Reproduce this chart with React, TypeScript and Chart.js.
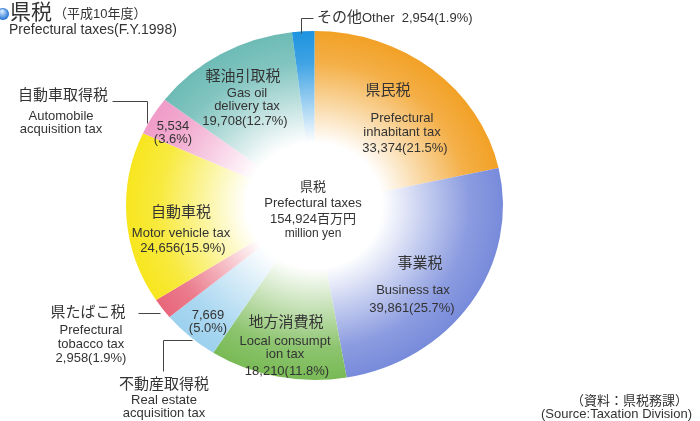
import React, { useEffect, useRef } from "react";
import { Chart, registerables } from "chart.js";

Chart.register(...registerables);

// ---- data ----
const namesJa = ["県民税", "事業税", "地方消費税", "不動産取得税", "県たばこ税", "自動車税", "自動車取得税", "軽油引取税", "その他"];
const namesEn = [
  "Prefectural\ninhabitant tax",
  "Business tax",
  "Local consumpt\nion tax",
  "Real estate\nacquisition tax",
  "Prefectural\ntobacco tax",
  "Motor vehicle tax",
  "Automobile\nacquisition tax",
  "Gas oil\ndelivery tax",
  "Other",
];
const values = [33374, 39861, 18210, 7669, 2958, 24656, 5534, 19708, 2954];
const percents = [21.5, 25.7, 11.8, 5.0, 1.9, 15.9, 3.6, 12.7, 1.9];
const totalValue = 154924;
const colors = ["#f2a126", "#788bdb", "#79ba55", "#9dd1ee", "#e8667a", "#f7e61e", "#f09cc8", "#6dbbb5", "#1d93df"];

const titleJa = "県税";
const titleYear = "（平成10年度）";
const titleEn = "Prefectural taxes(F.Y.1998)";
const centerLines = ["県税", "Prefectural taxes", `${totalValue.toLocaleString("en-US")}百万円`, "million yen"];
const sourceLines = ["（資料：県税務課）", "(Source:Taxation Division)"];

// ---- styles / layout ----
const FONT = '"Liberation Sans", Arial, "Noto Sans CJK JP", sans-serif';
const TEXT = "#333333";
const CX = 314.5;
const CY = 205.5;
const RX = 188.5;
const RY = 174.5;
const R = 181.5;

const fmt = (v: number) => v.toLocaleString("en-US");
const valText = (i: number) => `${fmt(values[i])}(${percents[i].toFixed(1)}%)`;

function hexToRgb(h: string) {
  const n = parseInt(h.slice(1), 16);
  return [(n >> 16) & 255, (n >> 8) & 255, n & 255];
}
function mix(h: string, t: number) {
  const [r, g, b] = hexToRgb(h);
  const m = (c: number) => Math.round(255 + (c - 255) * t);
  return `rgb(${m(r)},${m(g)},${m(b)})`;
}

type Txt = { t: string; x: number; y: number; size: number; align?: CanvasTextAlign };

function buildTexts(): Txt[] {
  const out: Txt[] = [];
  const en = namesEn.map((s) => s.split("\n"));
  // 0 県民税
  out.push({ t: namesJa[0], x: 388, y: 91, size: 15 });
  out.push({ t: en[0][0], x: 402, y: 118, size: 13 });
  out.push({ t: en[0][1], x: 402, y: 132, size: 13 });
  out.push({ t: valText(0), x: 405, y: 148, size: 13 });
  // 1 事業税
  out.push({ t: namesJa[1], x: 420, y: 264, size: 15 });
  out.push({ t: en[1][0], x: 413, y: 290, size: 13 });
  out.push({ t: valText(1), x: 412, y: 308, size: 13 });
  // 2 地方消費税
  out.push({ t: namesJa[2], x: 286, y: 323, size: 15 });
  out.push({ t: en[2][0], x: 285, y: 341, size: 13 });
  out.push({ t: en[2][1], x: 285, y: 354, size: 13 });
  out.push({ t: valText(2), x: 287, y: 371, size: 13 });
  // 3 不動産取得税
  out.push({ t: fmt(values[3]), x: 208, y: 315, size: 13 });
  out.push({ t: `(${percents[3].toFixed(1)}%)`, x: 208, y: 328, size: 13 });
  out.push({ t: namesJa[3], x: 164, y: 385, size: 15 });
  out.push({ t: en[3][0], x: 164, y: 400, size: 13 });
  out.push({ t: en[3][1], x: 164, y: 413, size: 13 });
  // 4 県たばこ税
  out.push({ t: namesJa[4], x: 88, y: 313, size: 15 });
  out.push({ t: en[4][0], x: 91, y: 330, size: 13 });
  out.push({ t: en[4][1], x: 91, y: 344, size: 13 });
  out.push({ t: valText(4), x: 91, y: 358, size: 13 });
  // 5 自動車税
  out.push({ t: namesJa[5], x: 181, y: 213, size: 15 });
  out.push({ t: en[5][0], x: 181, y: 233, size: 13 });
  out.push({ t: valText(5), x: 183, y: 248, size: 13 });
  // 6 自動車取得税
  out.push({ t: fmt(values[6]), x: 173, y: 126, size: 13 });
  out.push({ t: `(${percents[6].toFixed(1)}%)`, x: 173, y: 139, size: 13 });
  out.push({ t: namesJa[6], x: 63, y: 96, size: 15 });
  out.push({ t: en[6][0], x: 61, y: 116, size: 13 });
  out.push({ t: en[6][1], x: 61, y: 129, size: 13 });
  // 7 軽油引取税
  out.push({ t: namesJa[7], x: 243, y: 77, size: 15 });
  out.push({ t: en[7][0], x: 247, y: 93, size: 13 });
  out.push({ t: en[7][1], x: 247, y: 106, size: 13 });
  out.push({ t: valText(7), x: 245, y: 121, size: 13 });
  // center
  out.push({ t: centerLines[0], x: 313, y: 187, size: 13 });
  out.push({ t: centerLines[1], x: 313, y: 203, size: 13 });
  out.push({ t: centerLines[2], x: 313, y: 219, size: 13 });
  out.push({ t: centerLines[3], x: 313, y: 234, size: 12 });
  // source
  out.push({ t: sourceLines[0], x: 688, y: 401, size: 13, align: "right" });
  out.push({ t: sourceLines[1], x: 692, y: 414, size: 13, align: "right" });
  return out;
}

const leaderLines: number[][][] = [
  [[301, 33], [301, 18], [313, 18]],
  [[112, 101], [147, 101], [147, 123]],
  [[138, 313], [160, 313]],
  [[192, 340], [163, 340], [163, 371]],
];

const ellipsePlugin = {
  id: "ellipse",
  beforeDatasetsDraw(chart: any) {
    const ctx = chart.ctx;
    const a = chart.chartArea;
    const cx = (a.left + a.right) / 2;
    const cy = (a.top + a.bottom) / 2;
    ctx.save();
    ctx.translate(cx, cy);
    ctx.scale(RX / R, RY / R);
    ctx.translate(-cx, -cy);
  },
  afterDatasetsDraw(chart: any) {
    chart.ctx.restore();
  },
};

const labelPlugin = {
  id: "labels",
  afterDraw(chart: any) {
    const ctx: CanvasRenderingContext2D = chart.ctx;
    ctx.save();
    // leader lines
    ctx.strokeStyle = "#444";
    ctx.lineWidth = 1;
    for (const pl of leaderLines) {
      ctx.beginPath();
      pl.forEach(([x, y], k) => (k === 0 ? ctx.moveTo(x + 0.5, y + 0.5) : ctx.lineTo(x + 0.5, y + 0.5)));
      ctx.stroke();
    }
    ctx.fillStyle = TEXT;
    ctx.textBaseline = "middle";
    for (const t of buildTexts()) {
      ctx.font = `${t.size}px ${FONT}`;
      ctx.textAlign = t.align || "center";
      ctx.fillText(t.t, t.x, t.y);
    }
    // その他 label
    ctx.textAlign = "left";
    ctx.font = `15px ${FONT}`;
    ctx.fillText(namesJa[8], 317, 18);
    const w = ctx.measureText(namesJa[8]).width;
    ctx.font = `13px ${FONT}`;
    ctx.fillText(`${namesEn[8]}  ${valText(8)}`, 317 + w, 18);
    // title
    const g = ctx.createRadialGradient(2, 11, 1, 3, 14, 6);
    g.addColorStop(0, "#cfe6ff");
    g.addColorStop(1, "#1f6fd0");
    ctx.fillStyle = g;
    ctx.beginPath();
    ctx.arc(3, 14, 6, 0, Math.PI * 2);
    ctx.fill();
    ctx.fillStyle = TEXT;
    ctx.font = `21px ${FONT}`;
    ctx.fillText(titleJa, 10, 13);
    const tw = ctx.measureText(titleJa).width;
    ctx.font = `13px ${FONT}`;
    ctx.fillText(titleYear, 12 + tw, 14);
    ctx.font = `14px ${FONT}`;
    ctx.fillText(titleEn, 9, 30);
    ctx.restore();
  },
};

export default function App() {
  const ref = useRef<HTMLCanvasElement | null>(null);
  useEffect(() => {
    if (!ref.current) return;
    const chart = new Chart(ref.current, {
      type: "pie",
      data: {
        labels: namesJa,
        datasets: [
          {
            data: values,
            borderWidth: 0,
            clip: false as any,
            backgroundColor: (c: any) => {
              const chartObj = c.chart;
              const a = chartObj.chartArea;
              const base = colors[c.dataIndex % colors.length];
              if (!a) return base;
              const cx = (a.left + a.right) / 2;
              const cy = (a.top + a.bottom) / 2;
              const r = Math.min(a.right - a.left, a.bottom - a.top) / 2;
              const g = chartObj.ctx.createRadialGradient(cx, cy, 0, cx, cy, r);
              g.addColorStop(0, "#ffffff");
              g.addColorStop(0.36, "#ffffff");
              g.addColorStop(0.6, mix(base, 0.45));
              g.addColorStop(0.82, mix(base, 0.85));
              g.addColorStop(1, base);
              return g;
            },
          },
        ],
      },
      options: {
        responsive: false,
        animation: false,
        layout: { padding: { left: CX - R, right: 700 - (CX + R), top: CY - R, bottom: 421 - (CY + R) } },
        plugins: { legend: { display: false }, tooltip: { enabled: false } },
      },
      plugins: [ellipsePlugin, labelPlugin],
    });
    return () => chart.destroy();
  }, []);
  return (
    <div style={{ position: "absolute", left: 0, top: 0, width: 700, height: 421, background: "#fff" }}>
      <canvas ref={ref} width={700} height={421} style={{ width: 700, height: 421, display: "block" }} />
    </div>
  );
}
